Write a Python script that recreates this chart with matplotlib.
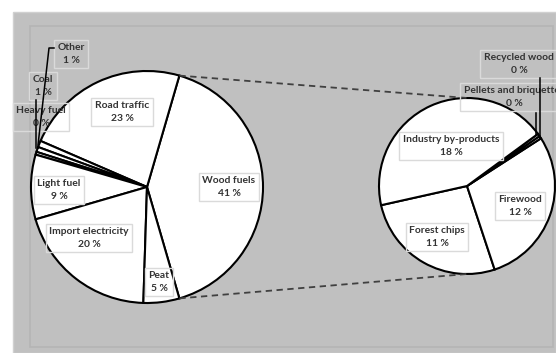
import matplotlib
matplotlib.use("Agg")
import matplotlib.pyplot as plt
from matplotlib.patches import Rectangle
import numpy as np

# energy sources, share of total (%)
main_labels = ["Wood fuels", "Road traffic", "Other", "Coal", "Heavy fuel",
               "Light fuel", "Import electricity", "Peat"]
other_values = [23.0, 0.9, 0.7, 0.4, 9.0, 20.0, 5.0]

# wood fuels broken down (%)
wood_labels = ["Forest chips", "Firewood", "Pellets and briquettes",
               "Recycled wood", "Industry by-products"]
wood_values = [10.9, 11.9, 0.2, 0.2, 17.8]

wood_total = sum(wood_values)
main_values = [wood_total] + other_values

W, H = 556, 353
plt.rcParams['font.family'] = ['Lato', 'DejaVu Sans']

fig = plt.figure(figsize=(W / 100, H / 100), dpi=100)
ax = fig.add_axes([0, 0, 1, 1])

# chart area + plot area
ax.add_patch(Rectangle((13, 0), W - 13, H - 12, fc='#c0c0c0', ec='#d0d0d0', lw=1, zorder=0))
ax.add_patch(Rectangle((30, H - 347), 523, 321, fc='#c0c0c0', ec='#b4b4b4', lw=1.2, zorder=0))

main_c = (147, H - 187)
main_r = 116
sub_c = (467, H - 186)
sub_r = 88

start = -wood_total / sum(main_values) * 180
wp = dict(edgecolor='black', linewidth=1.5)
ax.pie(main_values, center=main_c, radius=main_r, startangle=start,
       colors=['white'] * len(main_values), wedgeprops=wp, frame=True)
ax.pie(wood_values, center=sub_c, radius=sub_r, startangle=192.6,
       colors=['white'] * len(wood_values), wedgeprops=wp, frame=True)

# dashed connectors from the wood fuels slice to the breakdown pie
a = np.deg2rad(start)
for sgn in (1, -1):
    x0 = main_c[0] + main_r * np.cos(a)
    y0 = main_c[1] - sgn * main_r * np.sin(a)
    ax.plot([x0, sub_c[0]], [y0, sub_c[1] + sgn * sub_r], ls=(0, (3.5, 2.5)),
            color='#404040', lw=1.3, zorder=3)

main_pos = [(229, 187), (122, 112), (71, 54), (43, 86), (41, 117),
            (59, 190), (89, 238), (159, 282)]
wood_pos = [(437, 237), (520, 206), (514, 97), (519, 64), (451, 146)]

box = dict(boxstyle='square,pad=0.35', fc='none', ec='#dadada', lw=1)
for names, vals, pos in ((main_labels, main_values, main_pos),
                         (wood_labels, wood_values, wood_pos)):
    for n, v, (x, y) in zip(names, vals, pos):
        ax.text(x, H - y, f"{n}\n{round(v):d} %", ha='center', va='center',
                fontsize=7.4, fontweight='bold', color='#333333',
                linespacing=1.45, bbox=box, zorder=4)

# leader lines
leaders = [
    [(54, 48), (49, 48), (38, 145)],
    [(36, 100), (36, 148)],
    [(540, 78), (540, 137)],
    [(536, 113), (536, 135)],
]
for pts in leaders:
    xs = [p[0] for p in pts]
    ys = [H - p[1] for p in pts]
    ax.plot(xs, ys, color='black', lw=1.1, zorder=5)

ax.set_xlim(0, W)
ax.set_ylim(0, H)
ax.set_aspect('equal')
ax.axis('off')
fig.savefig("out.png", dpi=100)
